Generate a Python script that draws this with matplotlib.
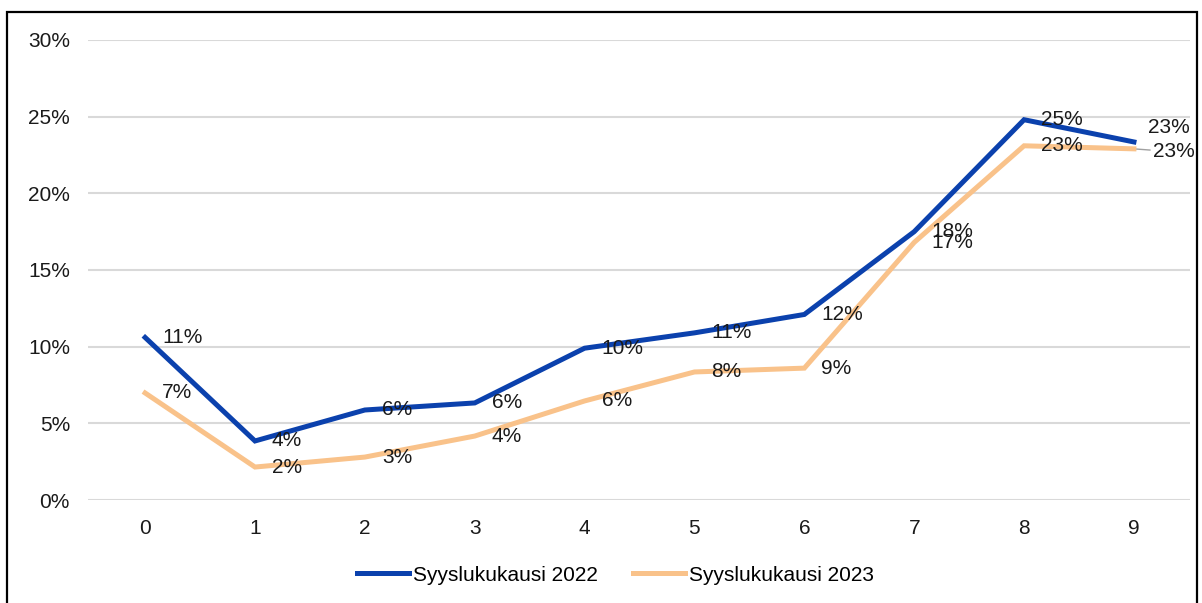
import matplotlib
matplotlib.use("Agg")
import matplotlib.pyplot as plt
from matplotlib.patches import Rectangle
from matplotlib.ticker import PercentFormatter

plt.rcParams['font.family'] = ['Liberation Sans', 'DejaVu Sans']

months = [0, 1, 2, 3, 4, 5, 6, 7, 8, 9]
share_2022 = [0.106, 0.0385, 0.0587, 0.0633, 0.099, 0.109, 0.121, 0.175, 0.248, 0.2335]
share_2023 = [0.0698, 0.0215, 0.028, 0.0417, 0.0646, 0.0835, 0.086, 0.168, 0.231, 0.229]
labels_2022 = ["11%", "4%", "6%", "6%", "10%", "11%", "12%", "18%", "25%", "23%"]
labels_2023 = ["7%", "2%", "3%", "4%", "6%", "8%", "9%", "17%", "23%", "23%"]
series_names = ["Syyslukukausi 2022", "Syyslukukausi 2023"]

blue = "#0b41ad"
orange = "#f9c28a"
fs = 15

fig = plt.figure(figsize=(12.02, 6.03), dpi=100)
ax = fig.add_axes([0.0732, 0.1708, 0.9168, 0.7629])

ax.plot(months, share_2022, color=blue, linewidth=3.6, label=series_names[0],
        solid_joinstyle='miter', zorder=3)
ax.plot(months, share_2023, color=orange, linewidth=3.6, label=series_names[1],
        solid_joinstyle='miter', zorder=2)

# data labels to the right of the points (offsets in pixels)
for i, (x, y) in enumerate(zip(months, share_2022)):
    off = (17, 0)
    if i == 9:
        off = (14, 14)
    ax.annotate(labels_2022[i], (x, y), xytext=off, textcoords='offset pixels',
                ha='left', va='center', fontsize=fs, color='#1a1a1a', zorder=5)
for i, (x, y) in enumerate(zip(months, share_2023)):
    if i == 9:
        ax.annotate(labels_2023[i], (x, y), xytext=(19, -3), textcoords='offset pixels',
                    ha='left', va='center', fontsize=fs, color='#1a1a1a', zorder=5,
                    arrowprops=dict(arrowstyle='-', color='#a0a0a0', lw=1,
                                    shrinkA=0, shrinkB=2))
    else:
        ax.annotate(labels_2023[i], (x, y), xytext=(17, 0), textcoords='offset pixels',
                    ha='left', va='center', fontsize=fs, color='#1a1a1a', zorder=5)

ax.set_xlim(-0.52, 9.51)
ax.set_ylim(0, 0.30)
ax.set_xticks(months)
ax.set_yticks([0, 0.05, 0.10, 0.15, 0.20, 0.25, 0.30])
ax.yaxis.set_major_formatter(PercentFormatter(1.0, decimals=0))
ax.tick_params(axis='both', length=0, labelsize=fs, colors='#1a1a1a')
ax.tick_params(axis='x', pad=14)
ax.tick_params(axis='y', pad=13)
ax.grid(True, axis='y', color='#d9d9d9', linewidth=1.5)
ax.set_axisbelow(True)
for s in ax.spines.values():
    s.set_visible(False)

fig.legend(loc='center', bbox_to_anchor=(0.512, 0.046), ncol=2, frameon=False,
           fontsize=fs, handlelength=2.5, handletextpad=0.2, columnspacing=1.7)

fig.patches.append(Rectangle((0.0058, -0.02), 0.99, 1.0, transform=fig.transFigure,
                             fill=False, edgecolor='black', linewidth=1.6))

fig.savefig("out.png", dpi=100)
